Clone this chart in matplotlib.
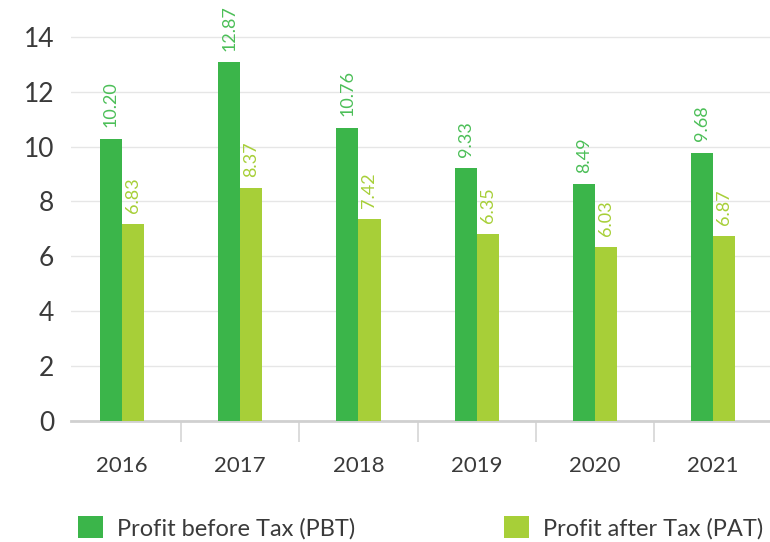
import matplotlib
matplotlib.use("Agg")
import matplotlib.pyplot as plt
from matplotlib.patches import Patch
import numpy as np

years = ["2016", "2017", "2018", "2019", "2020", "2021"]
pbt_values = [10.29, 13.08, 10.69, 9.22, 8.62, 9.78]
pat_values = [7.16, 8.50, 7.35, 6.80, 6.33, 6.73]
pbt_labels = ["10.20", "12.87", "10.76", "9.33", "8.49", "9.68"]
pat_labels = ["6.83", "8.37", "7.42", "6.35", "6.03", "6.87"]
series_names = ["Profit before Tax (PBT)", "Profit after Tax (PAT)"]
y_ticks = [0, 2, 4, 6, 8, 10, 12, 14]

PBT_COLOR = "#3bb54a"
PAT_COLOR = "#a7cf38"
PBT_TEXT = "#4cbf58"
PAT_TEXT = "#a7cf38"
TEXT = "#3a3a3a"

plt.rcParams["font.family"] = ["Lato", "DejaVu Sans"]

fig = plt.figure(figsize=(7.7, 5.42), dpi=100)
ax = fig.add_axes([71 / 770, 1 - 421 / 542, (770 - 71) / 770, (421 - 34) / 542])

x = np.arange(len(years))
w = 0.187
b1 = ax.bar(x - w / 2, pbt_values, width=w, color=PBT_COLOR, zorder=3)
b2 = ax.bar(x + w / 2, pat_values, width=w, color=PAT_COLOR, zorder=3)

for rect, lab in zip(b1, pbt_labels):
    ax.annotate(lab, (rect.get_x() + rect.get_width() / 2, rect.get_height()),
                xytext=(0, 8), textcoords="offset points", rotation=90,
                ha="center", va="bottom", color=PBT_TEXT, fontsize=13)
for rect, lab in zip(b2, pat_labels):
    ax.annotate(lab, (rect.get_x() + rect.get_width() / 2, rect.get_height()),
                xytext=(0, 8), textcoords="offset points", rotation=90,
                ha="center", va="bottom", color=PAT_TEXT, fontsize=13)

ax.set_xlim(-0.43, 5.48)
ax.set_ylim(0, 14.1)
ax.set_yticks(y_ticks)
ax.set_yticklabels([str(t) for t in y_ticks], fontsize=19, color=TEXT)
ax.tick_params(axis="y", length=0, pad=12)
ax.grid(axis="y", color="#e6e6e6", linewidth=1, zorder=0)

ax.set_xticks(x)
ax.set_xticklabels(years, fontsize=16, color=TEXT)
ax.tick_params(axis="x", length=0, pad=25)
ax.set_xticks(np.arange(len(years) - 1) + 0.5, minor=True)
ax.tick_params(axis="x", which="minor", length=15, width=1.2, color="#d5d5d5", direction="out")

for s in ["top", "right", "left"]:
    ax.spines[s].set_visible(False)
ax.spines["bottom"].set_color("#d0d0d0")
ax.spines["bottom"].set_linewidth(2)

common = dict(loc="center left", frameon=False, fontsize=17, handlelength=1.05,
              handleheight=1.05, handletextpad=0.6, labelcolor=TEXT,
              borderpad=0, borderaxespad=0)
fig.legend(handles=[Patch(facecolor=PBT_COLOR)], labels=[series_names[0]],
           bbox_to_anchor=(78 / 770, 1 - 528 / 542), **common)
fig.legend(handles=[Patch(facecolor=PAT_COLOR)], labels=[series_names[1]],
           bbox_to_anchor=(504 / 770, 1 - 528 / 542), **common)

fig.savefig("out.png", dpi=100)
